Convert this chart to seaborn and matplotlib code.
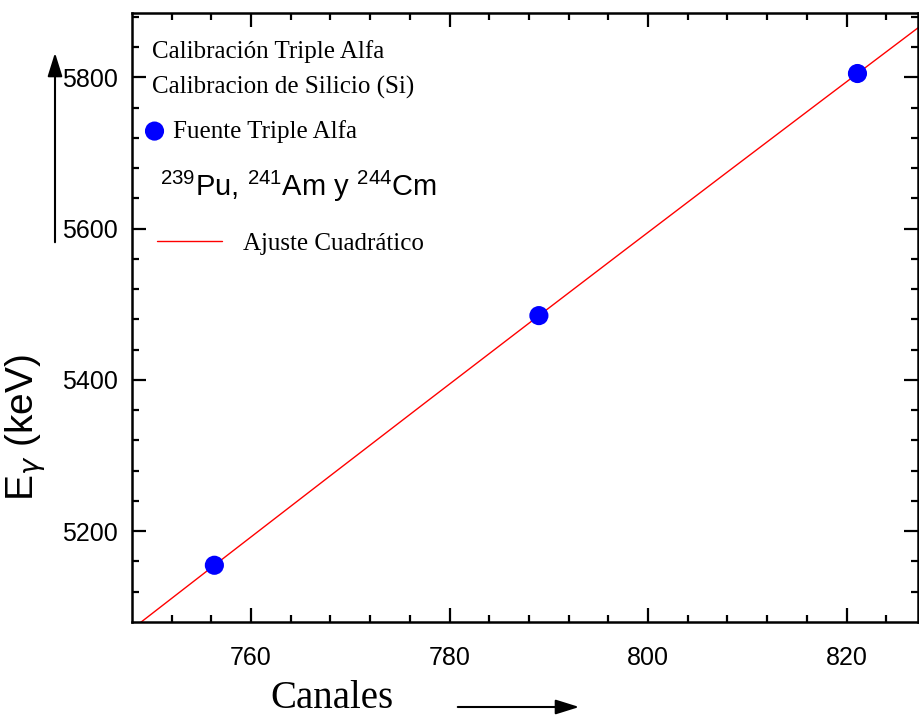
import numpy as np
import pandas as pd
import matplotlib
matplotlib.use("Agg")
import matplotlib.pyplot as plt
import seaborn as sns

# datos
canales = [756.3, 789.0, 821.1]
energia = [5155, 5485, 5805]
x_ticks = [760, 780, 800, 820]
y_ticks = [5200, 5400, 5600, 5800]

sns.set_style("ticks")
plt.rcParams["font.family"] = ["Liberation Sans", "DejaVu Sans"]
plt.rcParams["mathtext.fontset"] = "custom"
plt.rcParams["mathtext.rm"] = "Liberation Sans"
plt.rcParams["mathtext.it"] = "DejaVu Sans:italic"
for k in ["text.color", "axes.labelcolor", "xtick.color", "ytick.color", "axes.edgecolor"]:
    plt.rcParams[k] = "black"

df = pd.DataFrame({"Canales": canales, "E": energia})

# ajuste cuadratico
coef = np.polyfit(canales, energia, 2)
xfit = np.linspace(748, 827.2, 200)
df_fit = pd.DataFrame({"Canales": xfit, "E": np.polyval(coef, xfit)})

fig = plt.figure(figsize=(9.19, 7.17), dpi=100)
ax = fig.add_axes([132 / 919, 95 / 717, 786 / 919, 609 / 717])

sns.lineplot(data=df_fit, x="Canales", y="E", color="#ff0000", linewidth=1.0, ax=ax,
             label="Ajuste Cuadrático", legend=False)
sns.scatterplot(data=df, x="Canales", y="E", color="#0000ff", s=190, edgecolor="none",
                ax=ax, label="Fuente Triple Alfa", legend=False, zorder=3)

ax.set_xlim(748, 827.2)
ax.set_ylim(5080, 5885)
ax.set_xticks(x_ticks)
ax.set_yticks(y_ticks)
ax.set_xticks(np.arange(752, 828, 4), minor=True)
ax.set_yticks(np.arange(5120, 5885, 40), minor=True)
ax.tick_params(which="both", direction="in", top=True, right=True, width=1.6, labelsize=18)
ax.tick_params(axis="x", pad=17)
ax.tick_params(axis="y", pad=10)
ax.tick_params(which="major", length=10)
ax.tick_params(which="minor", length=5)
for s in ax.spines.values():
    s.set_linewidth(1.8)

ax.set_xlabel("Canales", fontsize=28, family="Liberation Serif", va="center")
ax.set_ylabel(r"E$_\gamma$ (keV)", fontsize=28, va="center")
ax.xaxis.set_label_coords((332 - 132) / 786, (622 - 698) / 609)
ax.yaxis.set_label_coords((26 - 132) / 786, (622 - 428) / 609)

# leyenda
serif = {"family": "Liberation Serif", "size": 18}
ax.text(0.0254, 0.936, "Calibración Triple Alfa", transform=ax.transAxes,
        va="center", ha="left", **serif)
ax.text(0.0254, 0.877, "Calibracion de Silicio (Si)", transform=ax.transAxes,
        va="center", ha="left", **serif)

h, l = ax.get_legend_handles_labels()
leg1 = ax.legend([h[1]], [l[1]], loc="center left", bbox_to_anchor=(0.0191, 0.806),
                 frameon=False, prop=serif, handlelength=0.6, handletextpad=0.45,
                 borderpad=0, borderaxespad=0)
ax.add_artist(leg1)
leg2 = ax.legend([h[0]], [l[0]], loc="center left", bbox_to_anchor=(0.0318, 0.621),
                 frameon=False, prop=serif, handlelength=2.6, handletextpad=0.85,
                 borderpad=0, borderaxespad=0)

ax.text(0.036, 0.716, r"$^{239}$Pu, $^{241}$Am y $^{244}$Cm", transform=ax.transAxes,
        fontsize=21, va="center", ha="left")

# flechas
ax.annotate("", xy=(55 / 919, 667 / 717), xytext=(55 / 919, 472 / 717),
            xycoords="figure fraction", textcoords="figure fraction",
            arrowprops=dict(arrowstyle="-|>,head_length=0.8,head_width=0.25",
                            color="black", lw=1.5, mutation_scale=18))
ax.annotate("", xy=(582 / 919, 10 / 717), xytext=(455 / 919, 10 / 717),
            xycoords="figure fraction", textcoords="figure fraction",
            arrowprops=dict(arrowstyle="-|>,head_length=0.8,head_width=0.25",
                            color="black", lw=1.5, mutation_scale=18))

fig.savefig("out.png", dpi=100)
